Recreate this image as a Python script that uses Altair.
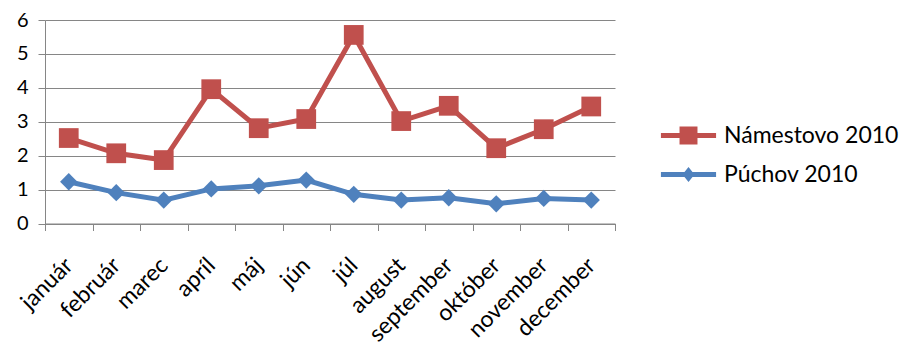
import altair as alt
import pandas as pd

months = ["január", "február", "marec", "apríl", "máj", "jún", "júl",
          "august", "september", "október", "november", "december"]
namestovo = [2.52, 2.07, 1.87, 3.96, 2.81, 3.08, 5.56, 3.02, 3.47, 2.22, 2.78, 3.45]
puchov = [1.23, 0.91, 0.69, 1.02, 1.11, 1.28, 0.86, 0.69, 0.76, 0.58, 0.74, 0.69]
series_names = ["Námestovo 2010", "Púchov 2010"]
colors = ["#C0504D", "#4F81BD"]

rows = []
for m, v in zip(months, namestovo):
    rows.append({"month": m, "series": series_names[0], "v": v})
for m, v in zip(months, puchov):
    rows.append({"month": m, "series": series_names[1], "v": v})
df = pd.DataFrame(rows)

FONT = "Lato"

x = alt.X("month:N", sort=months, title=None,
          scale=alt.Scale(paddingInner=0, paddingOuter=0),
          axis=alt.Axis(labelAngle=-45, labelAlign="right", labelBaseline="middle",
                        labelFontSize=23, labelFont=FONT, labelColor="#000000",
                        tickBand="extent", tickSize=7, tickColor="#868686",
                        domainColor="#868686", grid=False, labelPadding=31,
                        labelOverlap=False, labelBound=False))
y = alt.Y("v:Q", title=None,
          scale=alt.Scale(domain=[0, 6], nice=False),
          axis=alt.Axis(values=[0, 1, 2, 3, 4, 5, 6], labelFontSize=20, labelFont=FONT,
                        labelColor="#000000", tickSize=7, tickColor="#868686",
                        domainColor="#868686", gridColor="#868686", labelPadding=10))

base = alt.Chart(df)
layers = []
for name, col, shp, sz in [(series_names[0], colors[0], "square", 390),
                           (series_names[1], colors[1], "diamond", 300)]:
    sub = base.transform_filter(alt.datum.series == name)
    layers.append(sub.mark_line(strokeWidth=5, color=col).encode(x=x, y=y))
    layers.append(sub.mark_point(filled=True, opacity=1, size=sz, shape=shp, color=col)
                  .encode(x=x, y=y))

sq_path = ("M-3.9,-0.35 L3.9,-0.35 L3.9,0.35 L-3.9,0.35 Z "
           "M-1.27,-1.27 L1.27,-1.27 L1.27,1.27 L-1.27,1.27 Z")
dia_path = ("M-3.9,-0.35 L3.9,-0.35 L3.9,0.35 L-3.9,0.35 Z "
            "M0,-1.06 L0.85,0 L0,1.06 L-0.85,0 Z")

leg = dict(title=None, orient="none", legendX=632, legendY=104,
           labelFontSize=23, labelFont=FONT, labelColor="#000000", labelLimit=0,
           labelOffset=24, rowPadding=15, symbolStrokeWidth=0, symbolSize=200)

legend_layer = base.transform_filter(alt.datum.v < -100).mark_point(
    filled=True, opacity=1, size=200).encode(
    x=x, y=y,
    color=alt.Color("series:N", scale=alt.Scale(domain=series_names, range=colors),
                    legend=alt.Legend(**leg)),
    shape=alt.Shape("series:N", scale=alt.Scale(domain=series_names, range=[sq_path, dia_path]),
                    legend=alt.Legend(**leg)),
)
layers.append(legend_layer)

chart = alt.layer(*layers).properties(
    width=570, height=203.5,
    autosize=alt.AutoSizeParams(type="none"),
    padding={"left": 45, "top": 20, "right": 294, "bottom": 125.5},
    background="#FFFFFF",
).configure_view(stroke=None)

chart.save("out.html", embed_options={"renderer": "svg", "actions": False})
